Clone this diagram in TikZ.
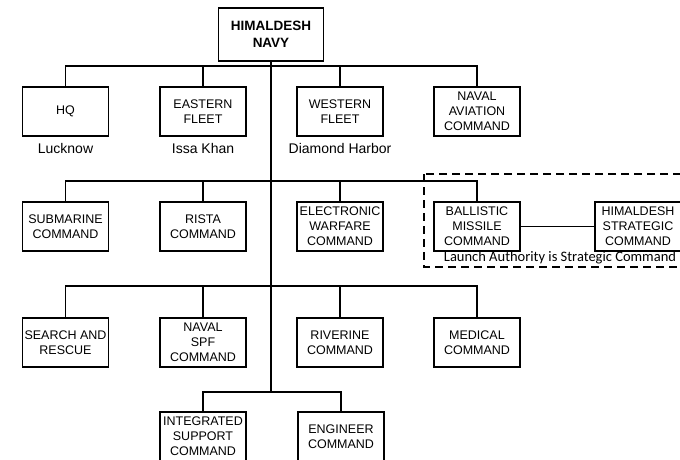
\documentclass[tikz,border=0pt]{standalone}
\usepackage{fontspec}
\setmainfont{Liberation Sans}
\newfontfamily\calibrifont{Carlito}
\usetikzlibrary{calc}

\begin{document}
\begin{tikzpicture}[
    x=1pt, y=-1pt,
    font=\fontsize{12.5}{15}\selectfont,
    l/.style={
        line width=1.1pt,
        color=black
    },
    e/.style={
        draw, line width=1.2pt,
        minimum width=86pt, minimum height=49pt,
        inner sep=1pt, align=center
    },
    hd/.style={e, minimum width=105pt, minimum height=53pt,
        font={\fontsize{13.5}{16.5}\selectfont\bfseries}},
    loc/.style={font={\fontsize{14}{16}\selectfont}},
    zone/.style={line width=1.6pt, dash pattern=on 8pt off 5pt}
]

    \clip (0,0) rectangle (680,459);

    \node [hd] (navy) at (271, 34.5) {HIMALDESH\\NAVY};

    \node [e] (hq)  at ( 65.5, 111.5) {HQ};
    \node [e] (ef)  at (203  , 111.5) {EASTERN\\FLEET};
    \node [e] (wf)  at (340  , 111.5) {WESTERN\\FLEET};
    \node [e] (nac) at (477  , 111.5) {NAVAL\\AVIATION\\COMMAND};

    \node [loc] (lucknow) at ( 65.5, 148) {Lucknow};
    \node [loc] (issa)    at (203  , 148) {Issa Khan};
    \node [loc] (diamond) at (340  , 148) {Diamond Harbor};

    \node [e] (sub) at ( 65.5, 226.5) {SUBMARINE\\COMMAND};
    \node [e] (rst) at (203  , 226.5) {RISTA\\COMMAND};
    \node [e] (ewc) at (340  , 226.5) {ELECTRONIC\\WARFARE\\COMMAND};
    \node [e] (bmc) at (477  , 226.5) {BALLISTIC\\MISSILE\\COMMAND};
    \node [e] (hsc) at (638  , 226.5) {HIMALDESH\\STRATEGIC\\COMMAND};

    \node [e] (sar) at ( 65.5, 342.5) {SEARCH AND\\RESCUE};
    \node [e] (spf) at (203  , 342.5) {NAVAL\\SPF\\COMMAND};
    \node [e] (riv) at (340  , 342.5) {RIVERINE\\COMMAND};
    \node [e] (med) at (477  , 342.5) {MEDICAL\\COMMAND};

    \node [e] (isc) at (203  , 436.5) {INTEGRATED\\SUPPORT\\COMMAND};
    \node [e] (eng) at (341  , 436.5) {ENGINEER\\COMMAND};

    \node [font={\calibrifont\fontsize{14.5}{17}\selectfont}] (launch)
        at (560, 258) {Launch Authority is Strategic Command};

    % bus points on the trunk
    \coordinate (b1) at (271,  66);
    \coordinate (b2) at (271, 181);
    \coordinate (b3) at (271, 286);
    \coordinate (b4) at (271, 392);

    \draw [l] (navy) -- (b4);

    \draw [l] (hq)  |- (b1);
    \draw [l] (ef)  |- (b1);
    \draw [l] (wf)  |- (b1);
    \draw [l] (nac) |- (b1);

    \draw [l] (sub) |- (b2);
    \draw [l] (rst) |- (b2);
    \draw [l] (ewc) |- (b2);
    \draw [l] (bmc) |- (b2);
    \draw [l] (bmc) -- (hsc);

    \draw [l] (sar) |- (b3);
    \draw [l] (spf) |- (b3);
    \draw [l] (riv) |- (b3);
    \draw [l] (med) |- (b3);

    \draw [l] (isc) |- (b4);
    \draw [l] (eng) |- (b4);

    % strategic zone
    \draw [zone] (424, 174) rectangle (700, 267);

\end{tikzpicture}
\end{document}
